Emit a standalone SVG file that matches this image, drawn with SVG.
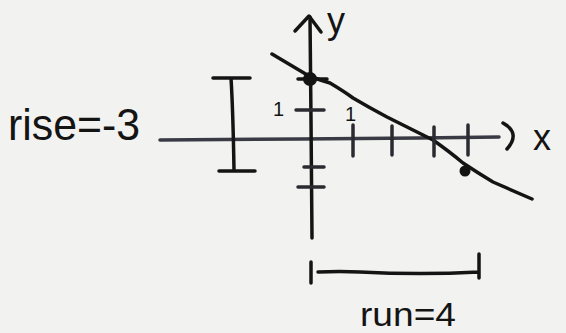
<svg xmlns="http://www.w3.org/2000/svg" width="566" height="333" viewBox="0 0 566 333">
<style>
.ink{fill:none;stroke:#141414;stroke-width:3.5;stroke-linecap:round;stroke-linejoin:round}
.axis{fill:none;stroke:#3a3a44;stroke-width:3.5;stroke-linecap:round}
.tick{fill:none;stroke:#2a2a30;stroke-width:3.5;stroke-linecap:round}
.lbl{font-family:"Liberation Sans","DejaVu Sans",sans-serif;fill:#141414}
</style>
<rect width="566" height="333" fill="#f2f2f0"/>
<g id="connectors">
<path id="x-axis" class="axis" d="M160,140 L300,139 L420,138 L499,137"/>
<path id="y-axis" class="ink" d="M310,17 L311,120 L312,238"/>
<path id="line" class="ink" d="M272,54 L309,76 Q320,80 330,83 Q345,92 353,98 Q370,108 387,117 Q405,126 417,132 L433,140 Q450,152 463,163 Q478,173 493,182 L532,199"/>
</g>
<g id="y-arrow"><path class="ink" d="M295,31 L309,16 L321,32"/></g>
<g id="x-arrow"><path class="ink" d="M503,123 Q521,133 507,149"/></g>
<g id="x-ticks">
<path class="tick" d="M353,125 V156 M392,126 V155 M434,127 V156 M468,125 V155"/>
<text class="lbl" x="345" y="121" font-size="20">1</text>
</g>
<g id="y-ticks">
<path class="tick" d="M296,110 H324 M304,167 H324 M298,187 H324"/>
<text class="lbl" x="273" y="116" font-size="20">1</text>
</g>
<g id="y-intercept"><circle cx="310" cy="79" r="7" fill="#141414"/><path class="ink" d="M298,79 H327"/></g>
<g id="point"><circle cx="465" cy="171" r="5.5" fill="#141414"/></g>
<g id="rise-bracket"><path class="ink" d="M213,78 H250 M231,78 Q233,110 234,170 M219,171 H255"/></g>
<g id="run-bracket"><path class="ink" d="M311,262 V283 M318,272 Q340,271 360,272 Q420,275 479,272 M479,254 V278"/></g>
<g id="labels">
<text class="lbl" x="8" y="140" font-size="44" textLength="132" lengthAdjust="spacingAndGlyphs">rise=-3</text>
<text class="lbl" x="360" y="326" font-size="34" textLength="96" lengthAdjust="spacingAndGlyphs">run=4</text>
<text class="lbl" x="327" y="33" font-size="36">y</text>
<text class="lbl" x="533" y="150" font-size="36">x</text>
</g>
</svg>
